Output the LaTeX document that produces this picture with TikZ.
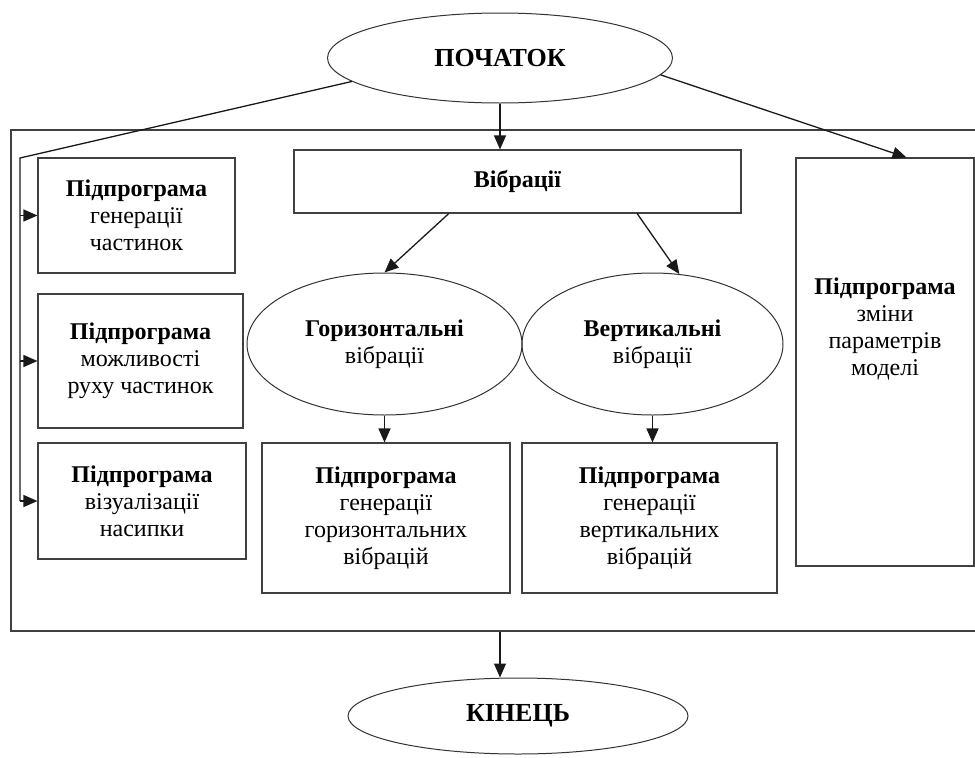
\documentclass[tikz,border=0pt]{standalone}
\usepackage{fontspec}
\setmainfont{Liberation Serif}
\usetikzlibrary{shapes.geometric, arrows.meta}

\begin{document}
\begin{tikzpicture}[x=1pt, y=-1pt, font=\fontsize{24}{27}\selectfont,
  every node/.style={align=center, inner sep=0pt},
  box/.style={draw=black!75, line width=1.1pt, rectangle},
  oval/.style={draw=black!80, line width=1pt, ellipse},
  title/.style={font=\fontsize{26}{30}\selectfont\bfseries},
  link/.style={-{Triangle[length=14pt,width=12pt]},
    every edge/.style={draw=black!90, line width=1.3pt}}]
\useasboundingbox (0,0) rectangle (975,758);
\clip (0,0) rectangle (975,758);
\node (frame) [box, minimum width=979pt, minimum height=501pt] at (500.5,380.5) {};
\node (start) [oval, title, minimum width=345pt, minimum height=90pt] at (500,58) {ПОЧАТОК};
\node (vib) [box, minimum width=447pt, minimum height=63pt] at (517.5,181.5) {\textbf{Вібрації}};
\node (sub1) [box, minimum width=197pt, minimum height=115pt] at (136.5,215.5)
  {\textbf{Підпрограма}\\генерації\\частинок};
\node (sub2) [box, minimum width=205pt, minimum height=134pt] at (140.5,361)
  {\textbf{Підпрограма}\\можливості\\руху частинок};
\node (sub3) [box, minimum width=208pt, minimum height=116pt] at (142,501)
  {\textbf{Підпрограма}\\візуалізації\\насипки};
\node (hor) [oval, minimum width=275pt, minimum height=142pt] at (384.5,344)
  {\textbf{Горизонтальні}\\вібрації};
\node (ver) [oval, minimum width=261pt, minimum height=142pt] at (652.5,344)
  {\textbf{Вертикальні}\\вібрації};
\node (hgen) [box, minimum width=248pt, minimum height=150pt] at (386,518)
  {\textbf{Підпрограма}\\генерації\\горизонтальних\\вібрацій};
\node (vgen) [box, minimum width=255pt, minimum height=150pt] at (649.5,518)
  {\textbf{Підпрограма}\\генерації\\вертикальних\\вібрацій};
\node (param) [box, minimum width=178pt, minimum height=408pt] at (885,362) {};
\node [yshift=33pt] at (param.center) {\textbf{Підпрограма}\\зміни\\параметрів\\моделі};
\node (end) [oval, title, minimum width=340pt, minimum height=76pt] at (518,716) {КІНЕЦЬ};
% left branch
\coordinate (bend) at (20,158);
\draw [draw=black!90, line width=1.3pt] (start.189) -- (bend) -- (bend |- sub3.west);
\path [link]
  (bend |- sub1.west) edge (sub1.west)
  (bend |- sub2.west) edge (sub2.west)
  (bend |- sub3.west) edge (sub3.west)
  (start.south) edge (start.south |- vib.north)
  (start.-6) edge (param.84)
  (vib.205) edge (hor.north)
  (vib.345) edge (ver.69)
  (hor.south) edge (hor.south |- hgen.north)
  (ver.south) edge (ver.south |- vgen.north)
  (frame.south -| start.south) edge (start.south |- end.north);
\end{tikzpicture}
\end{document}
